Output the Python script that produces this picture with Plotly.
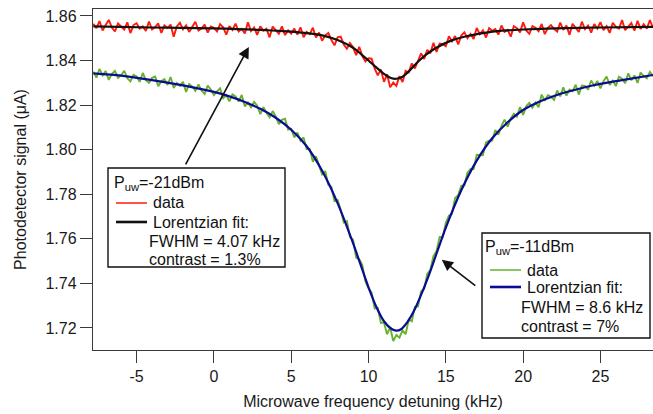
import numpy as np
import plotly.graph_objects as go

# ---------------- data ----------------
# detuning grid of the recorded sweeps (kHz)
detuning = np.round(np.arange(182) * 0.2 - 7.8, 2)

# photodetector signal at P = -21 dBm (uA)
signal_21dbm = [
    1.8565, 1.8545, 1.8577, 1.8535, 1.8559, 1.8582, 1.8548, 1.8530, 1.8566, 1.8554,
    1.8539, 1.8571, 1.8523, 1.8559, 1.8567, 1.8543, 1.8553, 1.8533, 1.8575, 1.8539,
    1.8550, 1.8566, 1.8524, 1.8558, 1.8546, 1.8561, 1.8507, 1.8553, 1.8569, 1.8539,
    1.8558, 1.8528, 1.8550, 1.8574, 1.8534, 1.8543, 1.8561, 1.8525, 1.8553, 1.8547,
    1.8530, 1.8563, 1.8549, 1.8516, 1.8554, 1.8537, 1.8565, 1.8530, 1.8542, 1.8521,
    1.8571, 1.8532, 1.8548, 1.8515, 1.8553, 1.8534, 1.8543, 1.8504, 1.8552, 1.8537,
    1.8520, 1.8553, 1.8514, 1.8535, 1.8520,
    1.8543, 1.8516, 1.8549, 1.8504, 1.8528, 1.8518, 1.8547, 1.8503, 1.8525, 1.8489,
    1.8513, 1.8523, 1.8492, 1.8468, 1.8504, 1.8507, 1.8472, 1.8453, 1.8478, 1.8459,
    1.8424, 1.8461, 1.8420, 1.8396, 1.8410, 1.8408, 1.8363, 1.8333, 1.8360, 1.8304,
    1.8338, 1.8280,
    1.8301, 1.8286, 1.8330, 1.8303, 1.8353, 1.8346, 1.8387, 1.8364, 1.8398, 1.8432,
    1.8407, 1.8448, 1.8432, 1.8479, 1.8438, 1.8476, 1.8473, 1.8464, 1.8509, 1.8486,
    1.8510, 1.8472, 1.8512, 1.8526, 1.8500, 1.8519, 1.8497, 1.8546, 1.8518, 1.8535,
    1.8503, 1.8545, 1.8533,
    1.8541, 1.8516, 1.8557, 1.8528, 1.8537, 1.8507, 1.8554, 1.8545, 1.8526, 1.8571,
    1.8535, 1.8520, 1.8554, 1.8547, 1.8531, 1.8564, 1.8518, 1.8547, 1.8559, 1.8542,
    1.8530, 1.8570, 1.8537, 1.8557, 1.8515, 1.8565, 1.8548, 1.8528, 1.8574, 1.8540,
    1.8557, 1.8525, 1.8563, 1.8543, 1.8572,
    1.8536, 1.8554, 1.8524, 1.8569, 1.8551, 1.8543, 1.8581, 1.8536, 1.8554, 1.8568,
    1.8534, 1.8578, 1.8541, 1.8563, 1.8543, 1.8581, 1.8547,
]

# photodetector signal at P = -11 dBm (uA)
signal_11dbm = [
    1.8350, 1.8323, 1.8362, 1.8333, 1.8352, 1.8313, 1.8340, 1.8353, 1.8322, 1.8334,
    1.8354, 1.8320, 1.8306, 1.8336, 1.8328, 1.8304, 1.8344, 1.8312, 1.8300, 1.8322,
    1.8328, 1.8285, 1.8307, 1.8316, 1.8290, 1.8326, 1.8277, 1.8299, 1.8286, 1.8304,
    1.8259, 1.8294, 1.8283, 1.8264, 1.8293, 1.8265, 1.8250, 1.8287, 1.8270, 1.8245,
    1.8261, 1.8275, 1.8231, 1.8245, 1.8217, 1.8248, 1.8239, 1.8216, 1.8245, 1.8194,
    1.8212, 1.8190, 1.8214, 1.8197, 1.8159, 1.8191, 1.8165, 1.8145, 1.8173, 1.8149,
    1.8114, 1.8134, 1.8139, 1.8090, 1.8093, 1.8055, 1.8077, 1.8040, 1.8055, 1.8003,
    1.8003, 1.7946, 1.7970, 1.7931, 1.7889, 1.7904, 1.7842, 1.7833, 1.7769, 1.7774,
    1.7730, 1.7673, 1.7679, 1.7608, 1.7596, 1.7515, 1.7508, 1.7482, 1.7408, 1.7378,
    1.7358, 1.7287, 1.7289, 1.7222, 1.7224, 1.7172, 1.7203, 1.7141, 1.7168, 1.7156,
    1.7189, 1.7172, 1.7237, 1.7230, 1.7295, 1.7297, 1.7364, 1.7375, 1.7443, 1.7461,
    1.7522, 1.7545, 1.7608, 1.7607, 1.7672, 1.7704, 1.7712, 1.7783, 1.7796, 1.7838,
    1.7840, 1.7897, 1.7913, 1.7913, 1.7977, 1.7976, 1.7975, 1.8033, 1.8040, 1.8041,
    1.8088, 1.8067, 1.8107, 1.8135, 1.8103, 1.8140, 1.8161, 1.8148, 1.8191, 1.8156,
    1.8195, 1.8210, 1.8188, 1.8211, 1.8190, 1.8247, 1.8219, 1.8244, 1.8238, 1.8223,
    1.8265, 1.8239, 1.8280, 1.8242, 1.8270, 1.8262, 1.8291, 1.8247, 1.8288, 1.8286,
    1.8269, 1.8310, 1.8287, 1.8308, 1.8275, 1.8307, 1.8328, 1.8290, 1.8309, 1.8285,
    1.8327, 1.8318, 1.8298, 1.8342, 1.8311, 1.8333, 1.8299, 1.8346, 1.8330, 1.8320,
    1.8349, 1.8329,
]

# Lorentzian fit curves (kHz, uA)
fit21_x = [-7.8, -4, 0, 3, 5.5, 7, 8, 9, 9.5, 10, 10.5, 11, 11.5, 11.8, 12.2, 12.7,
           13.2, 13.7, 14.3, 15.3, 16.4, 17.5, 18.5, 20, 22, 25, 28.4]
fit21_y = [1.8553, 1.8548, 1.8544, 1.8537, 1.8526, 1.8513, 1.8492, 1.8457, 1.8430,
           1.8400, 1.8369, 1.8340, 1.8320, 1.8318, 1.8327, 1.8358, 1.8394, 1.8425,
           1.8454, 1.8488, 1.8510, 1.8524, 1.8533, 1.8539, 1.8544, 1.8548, 1.8551]

fit11_x = [-7.8, -6, -4, -2, 0, 1, 2, 3, 4, 5, 6, 7, 8, 9, 10, 10.5, 11, 11.5, 11.8,
           12.1, 12.5, 13, 13.5, 14, 15, 16, 17, 18, 19, 20, 21, 22, 23, 24, 25, 26.5, 28.4]
fit11_y = [1.8342, 1.8332, 1.8312, 1.8288, 1.8259, 1.8239, 1.8214, 1.8183, 1.8143,
           1.8089, 1.8015, 1.7905, 1.7760, 1.7580, 1.7382, 1.7295, 1.7230, 1.7195,
           1.7188, 1.7194, 1.7225, 1.7285, 1.7365, 1.7455, 1.7650, 1.7818, 1.7951,
           1.8051, 1.8123, 1.8178, 1.8214, 1.8241, 1.8262, 1.8280, 1.8295, 1.8313, 1.8335]

x_ticks = [-5, 0, 5, 10, 15, 20, 25]
x_tick_text = ["-5", "0", "5", "10", "15", "20", "25"]
y_ticks = [1.72, 1.74, 1.76, 1.78, 1.80, 1.82, 1.84, 1.86]

# ---------------- styling ----------------
RED = "#ff1a0d"
GREEN = "#66b22a"
BLUE = "#0b0b96"
BLACK = "#111111"
AXIS = "#3a3a3a"
FONT = "Arial, Liberation Sans, sans-serif"

W, H = 653, 414
L, R, T, B = 93, 0, 9, 64


def px(xp):
    return (xp - L) / (W - L - R)


def py(yp):
    return (H - B - yp) / (H - T - B)


fig = go.Figure()
fig.add_trace(go.Scatter(x=detuning, y=signal_21dbm, mode="lines",
                         line=dict(color=RED, width=1.9), hoverinfo="skip"))
fig.add_trace(go.Scatter(x=detuning, y=signal_11dbm, mode="lines",
                         line=dict(color=GREEN, width=1.9), hoverinfo="skip"))
fig.add_trace(go.Scatter(x=fit21_x, y=fit21_y, mode="lines",
                         line=dict(color=BLACK, width=2.2, shape="spline", smoothing=0.8),
                         hoverinfo="skip"))
fig.add_trace(go.Scatter(x=fit11_x, y=fit11_y, mode="lines",
                         line=dict(color=BLUE, width=2.2, shape="spline", smoothing=0.8),
                         hoverinfo="skip"))

shapes = []
annotations = []


def legend_box(x0, y0, x1, y1):
    shapes.append(dict(type="rect", xref="paper", yref="paper",
                       x0=px(x0), x1=px(x1), y0=py(y1), y1=py(y0),
                       line=dict(color="#111", width=1.4), fillcolor="white", layer="above"))


def legend_line(x0, x1, y, color, width):
    shapes.append(dict(type="line", xref="paper", yref="paper",
                       x0=px(x0), x1=px(x1), y0=py(y), y1=py(y),
                       line=dict(color=color, width=width), layer="above"))


def legend_text(x, y, text):
    annotations.append(dict(xref="paper", yref="paper", x=px(x), y=py(y), text=text,
                            showarrow=False, xanchor="left", yanchor="middle",
                            font=dict(family=FONT, size=16, color="#111")))


# box for -21 dBm
legend_box(108, 168, 285, 267)
legend_text(112, 183, "P<sub>uw</sub>=-21dBm")
legend_line(116, 147, 203, RED, 1.5)
legend_text(151, 203, "data")
legend_line(116, 147, 222, BLACK, 2.6)
legend_text(151, 222, "Lorentzian fit:")
legend_text(147, 241, "FWHM = 4.07 kHz")
legend_text(147, 259, "contrast = 1.3%")

# box for -11 dBm
legend_box(482, 233, 650, 338)
legend_text(483, 247, "P<sub>uw</sub>=-11dBm")
legend_line(490, 521, 270, GREEN, 1.5)
legend_text(525, 270, "data")
legend_line(490, 521, 287, BLUE, 2.6)
legend_text(525, 287, "Lorentzian fit:")
legend_text(519, 307, "FWHM = 8.6 kHz")
legend_text(519, 326, "contrast = 7%")

# arrows pointing from each box to its curve
annotations.append(dict(x=2.26, y=1.8461, xref="x", yref="y", ax=-64, ay=119,
                        axref="pixel", ayref="pixel", showarrow=True, text="",
                        arrowhead=2, arrowsize=1.4, arrowwidth=1.6, arrowcolor="#111"))
annotations.append(dict(x=14.74, y=1.7506, xref="x", yref="y", ax=35, ay=27,
                        axref="pixel", ayref="pixel", showarrow=True, text="",
                        arrowhead=2, arrowsize=1.4, arrowwidth=1.6, arrowcolor="#111"))

fig.update_layout(
    width=W, height=H,
    margin=dict(l=L, r=R, t=T, b=B, pad=0),
    paper_bgcolor="white", plot_bgcolor="white",
    showlegend=False,
    font=dict(family=FONT, size=16, color="#1a1a1a"),
    shapes=shapes, annotations=annotations,
    xaxis=dict(range=[-7.82, 28.4], tickvals=x_ticks, ticktext=x_tick_text,
               ticks="outside", ticklen=12,
               tickwidth=1.4, tickcolor=AXIS, showline=True, linecolor=AXIS,
               linewidth=1.4, mirror=True, showgrid=False, zeroline=False,
               tickfont=dict(size=16), automargin=False,
               title=dict(text="Microwave frequency detuning (kHz)",
                          font=dict(size=16), standoff=11)),
    yaxis=dict(range=[1.7101, 1.8631], tickvals=y_ticks, tickformat=".2f",
               ticks="outside", ticklen=12, tickwidth=1.4, tickcolor=AXIS,
               showline=True, linecolor=AXIS, linewidth=1.4, mirror=False,
               showgrid=False, zeroline=False, tickfont=dict(size=16),
               automargin=False,
               title=dict(text="Photodetector signal (μA)", font=dict(size=16),
                          standoff=14)),
)

fig.write_html("out.html", include_plotlyjs=True, full_html=True,
               config=dict(displayModeBar=False))
